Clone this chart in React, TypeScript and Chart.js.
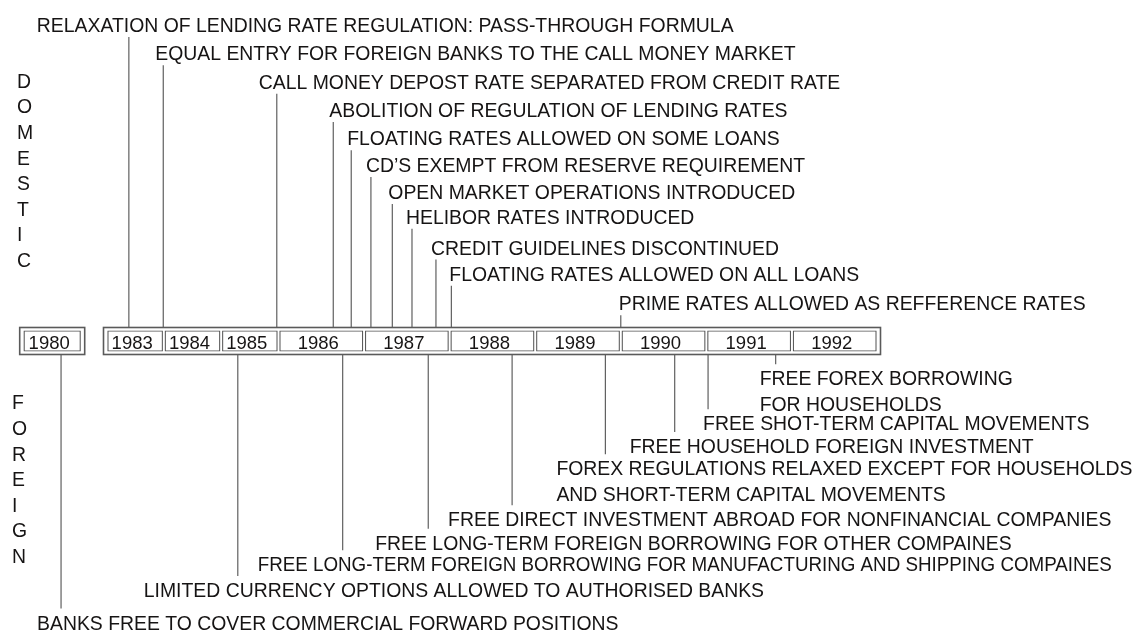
import React, { useEffect, useRef } from "react";
import { Chart, registerables, LinearScale } from "chart.js";

Chart.register(...registerables);

// ================= DATA =================
const yearLabels = ["1980", "1983", "1984", "1985", "1986", "1987", "1988", "1989", "1990", "1991", "1992"];
const yearStarts = [1980, 1983, 1984, 1985, 1986, 1987, 1988, 1989, 1990, 1991, 1992];

const domesticLabels = [
  "RELAXATION OF LENDING RATE REGULATION: PASS-THROUGH FORMULA",
  "EQUAL ENTRY FOR FOREIGN BANKS TO THE CALL MONEY MARKET",
  "CALL MONEY DEPOST RATE SEPARATED FROM CREDIT RATE",
  "ABOLITION OF REGULATION OF LENDING RATES",
  "FLOATING RATES ALLOWED ON SOME LOANS",
  "CD\u2019S EXEMPT FROM RESERVE REQUIREMENT",
  "OPEN MARKET OPERATIONS INTRODUCED",
  "HELIBOR RATES INTRODUCED",
  "CREDIT GUIDELINES DISCONTINUED",
  "FLOATING RATES ALLOWED ON ALL LOANS",
  "PRIME RATES ALLOWED AS REFFERENCE RATES",
];
// date of each measure (fractional year)
const domesticDates = [1983.39, 1983.99, 1985.97, 1986.64, 1986.85, 1987.08, 1987.33, 1987.56, 1987.84, 1988.02, 1990.0];
// tier (row) of each label above the time line
const domesticTiers = [12.15, 11.07, 9.97, 8.88, 7.8, 6.77, 5.73, 4.78, 3.59, 2.58, 1.45];

const foreignLabels = [
  "BANKS FREE TO COVER COMMERCIAL FORWARD POSITIONS",
  "LIMITED CURRENCY OPTIONS ALLOWED TO AUTHORISED BANKS",
  "FREE LONG-TERM FOREIGN BORROWING FOR MANUFACTURING AND SHIPPING COMPAINES",
  "FREE LONG-TERM FOREIGN BORROWING FOR OTHER COMPAINES",
  "FREE DIRECT INVESTMENT ABROAD FOR NONFINANCIAL COMPANIES",
  "FOREX REGULATIONS RELAXED EXCEPT FOR HOUSEHOLDS\nAND SHORT-TERM CAPITAL MOVEMENTS",
  "FREE HOUSEHOLD FOREIGN INVESTMENT",
  "FREE SHOT-TERM CAPITAL MOVEMENTS",
  "FREE FOREX BORROWING\nFOR HOUSEHOLDS",
];
const foreignDates = [1980.65, 1985.29, 1986.75, 1987.75, 1988.73, 1989.82, 1990.63, 1991.02, 1991.81];
const foreignTiers = [-10.83, -9.58, -8.59, -7.76, -6.86, -4.9, -4.04, -3.17, -1.43];

const sideTitles = ["DOMESTIC", "FOREIGN"];
const sideTitleTiers = [10.01, -2.36];

// ================= LAYOUT / STYLE =================
// piecewise time axis (the figure compresses 1983-1985 and cuts 1981-1982)
const axisBreakYears = [1980, 1981, 1983, 1986, 1993];
const axisBreakUnits = [22.7, 81.7, 106.5, 278.5, 877.5];
const X_UNITS_MAX = 1134;
const Y_MIN = -11.154;
const Y_MAX = 13.115;

const domesticLabelDx = [-92, -8, -18, -4, -4, -5, -4, -6, -5, -2, -2];
const foreignLabelDx = [-24, -94, -85, -53, -64, -49, -45, -5, -16];
// typeset width limits (the long manufacturing line is set condensed)
const foreignLabelMaxW: (number | null)[] = [null, null, 854, null, null, null, null, null, null];
const sideTitleX = [17, 12];
const SIDE_LETTER_STEP = 25.6;
const LINE_HEIGHT = 25.5;
const CAP_SHIFT = 7; // baseline offset from text centre
const DOM_GAP = 0.46; // connector gap below a domestic label (tiers)
const FOR_GAP = 0.54; // connector gap above a foreign label (tiers)
const BOX_THICKNESS = 21;
const FRAME_PAD = 3;
const TEXT_COLOR = "#161414";
const LINE_COLOR = "#606060";
const BOX_COLOR = "#505050";
const LABEL_FONT = '19.4px "Liberation Sans", Arial, Helvetica, sans-serif';
const YEAR_FONT = '18.5px "Liberation Sans", Arial, Helvetica, sans-serif';

function warp(v: number): number {
  const ys = axisBreakYears;
  const us = axisBreakUnits;
  let i = 0;
  while (i < ys.length - 2 && v > ys[i + 1]) i++;
  return us[i] + ((v - ys[i]) * (us[i + 1] - us[i])) / (ys[i + 1] - ys[i]);
}
function unwarp(u: number): number {
  const ys = axisBreakYears;
  const us = axisBreakUnits;
  let i = 0;
  while (i < us.length - 2 && u > us[i + 1]) i++;
  return ys[i] + ((u - us[i]) * (ys[i + 1] - ys[i])) / (us[i + 1] - us[i]);
}

class TimelineScale extends LinearScale {
  static id = "timeline";
  getPixelForValue(value: number) {
    return super.getPixelForValue(warp(value));
  }
  getValueForPixel(pixel: number) {
    return unwarp(super.getValueForPixel(pixel) as number);
  }
}
Chart.register(TimelineScale as any);

const timelinePlugin = {
  id: "timelineDecor",
  beforeDatasetDraw(chart: any, args: any) {
    const ds = chart.data.datasets[args.index];
    if (ds.label !== "Years") return;
    const { ctx } = chart;
    const xs = chart.scales.x;
    const ys = chart.scales.y;
    const groups: number[][] = [];
    yearStarts.forEach((s) => {
      const last = groups[groups.length - 1];
      if (last && last[1] === s) last[1] = s + 1;
      else groups.push([s, s + 1]);
    });
    const yc = ys.getPixelForValue(0);
    const h = BOX_THICKNESS / 2 + FRAME_PAD;
    ctx.save();
    ctx.fillStyle = "#ffffff";
    ctx.strokeStyle = "#5a5a5a";
    ctx.lineWidth = 1.6;
    groups.forEach(([a, b]) => {
      const x0 = xs.getPixelForValue(a) - FRAME_PAD;
      const x1 = xs.getPixelForValue(b) + FRAME_PAD;
      ctx.fillRect(x0, yc - h, x1 - x0, 2 * h);
      ctx.strokeRect(x0, yc - h, x1 - x0, 2 * h);
    });
    ctx.restore();
  },
  afterDatasetsDraw(chart: any) {
    const { ctx } = chart;
    const xs = chart.scales.x;
    const ys = chart.scales.y;
    ctx.save();
    ctx.fillStyle = TEXT_COLOR;
    ctx.textBaseline = "alphabetic";

    // year labels inside boxes
    ctx.font = YEAR_FONT;
    ctx.textAlign = "center";
    const yc = ys.getPixelForValue(0);
    yearStarts.forEach((s, i) => {
      const cx = (xs.getPixelForValue(s) + xs.getPixelForValue(s + 1)) / 2 - 3;
      ctx.fillText(yearLabels[i], cx, yc + 8.2);
    });

    // event labels
    ctx.font = LABEL_FONT;
    ctx.textAlign = "left";
    const drawLabel = (text: string, x: number, y: number, maxW: number | null) => {
      text.split("\n").forEach((ln, k) => {
        if (maxW) ctx.fillText(ln, x, y + CAP_SHIFT + k * LINE_HEIGHT, maxW);
        else ctx.fillText(ln, x, y + CAP_SHIFT + k * LINE_HEIGHT);
      });
    };
    domesticLabels.forEach((t, i) => {
      drawLabel(t, xs.getPixelForValue(domesticDates[i]) + domesticLabelDx[i], ys.getPixelForValue(domesticTiers[i]), null);
    });
    foreignLabels.forEach((t, i) => {
      drawLabel(
        t,
        xs.getPixelForValue(foreignDates[i]) + foreignLabelDx[i],
        ys.getPixelForValue(foreignTiers[i]),
        foreignLabelMaxW[i]
      );
    });

    // vertical side titles
    sideTitles.forEach((t, i) => {
      const y0 = ys.getPixelForValue(sideTitleTiers[i]) + CAP_SHIFT;
      t.split("").forEach((ch, k) => ctx.fillText(ch, sideTitleX[i], y0 + k * SIDE_LETTER_STEP));
    });
    ctx.restore();
  },
};

export default function App() {
  const canvasRef = useRef<HTMLCanvasElement | null>(null);

  useEffect(() => {
    document.body.style.margin = "0";
    const canvas = canvasRef.current;
    if (!canvas) return;

    const connectorPoints: any[] = [];
    domesticDates.forEach((d, i) => {
      connectorPoints.push({ x: d, y: domesticTiers[i] - DOM_GAP }, { x: d, y: 0 }, { x: null, y: null });
    });
    foreignDates.forEach((d, i) => {
      connectorPoints.push({ x: d, y: 0 }, { x: d, y: foreignTiers[i] + FOR_GAP }, { x: null, y: null });
    });

    const yearSpans = yearStarts.map((s) => ({ x: [s, s + 1], y: 0 }));

    const chart = new Chart(canvas, {
      type: "bar",
      data: {
        datasets: [
          {
            type: "line",
            label: "Connectors",
            data: connectorPoints,
            borderColor: LINE_COLOR,
            borderWidth: 1.2,
            pointRadius: 0,
            tension: 0,
            spanGaps: false,
            fill: false,
            order: 3,
          } as any,
          {
            // grey year box outline, separated from its neighbours by a thin white gap
            type: "bar",
            label: "Years",
            indexAxis: "y",
            data: yearSpans,
            backgroundColor: BOX_COLOR,
            borderColor: "#ffffff",
            borderWidth: { left: 1, right: 1, top: 0, bottom: 0 },
            borderSkipped: false,
            barThickness: BOX_THICKNESS,
            grouped: false,
            inflateAmount: 0,
            order: 2,
          } as any,
          {
            type: "bar",
            label: "YearFill",
            indexAxis: "y",
            data: yearSpans,
            backgroundColor: "#ffffff",
            borderColor: "rgba(0,0,0,0)",
            borderWidth: { left: 2, right: 2, top: 1, bottom: 1 },
            borderSkipped: false,
            barThickness: BOX_THICKNESS,
            grouped: false,
            inflateAmount: 0,
            order: 1,
          } as any,
        ],
      },
      options: {
        animation: false,
        responsive: false,
        devicePixelRatio: 1,
        events: [],
        layout: { padding: 0 },
        plugins: { legend: { display: false }, tooltip: { enabled: false } },
        scales: {
          x: { type: "timeline" as any, min: 0, max: X_UNITS_MAX, offset: false, display: false, bounds: "data" } as any,
          y: { type: "linear", min: Y_MIN, max: Y_MAX, offset: false, display: false } as any,
        },
      },
      plugins: [timelinePlugin as any],
    });
    return () => chart.destroy();
  }, []);

  return (
    <div style={{ width: 1134, height: 631 }}>
      <canvas ref={canvasRef} width={1134} height={631} style={{ display: "block" }} />
    </div>
  );
}
